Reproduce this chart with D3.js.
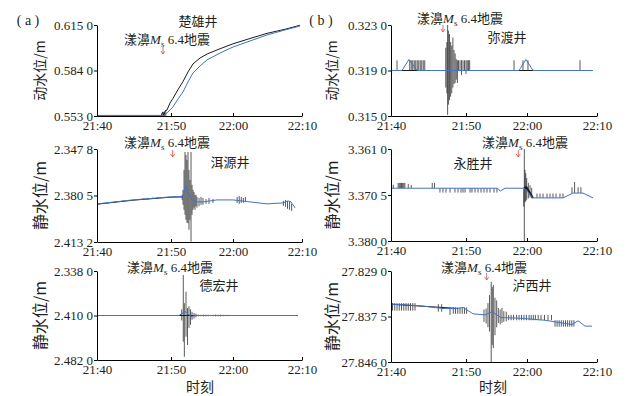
<!DOCTYPE html>
<html>
<head>
<meta charset="utf-8">
<script src="https://cdn.jsdelivr.net/npm/d3@7"></script>
<style>
body { margin: 0; background: #fff; }
text { font-family: "Liberation Serif", "Times New Roman", "Noto Sans CJK SC", serif; fill: #231f20; white-space: pre; }
.cn { font-family: "Noto Sans CJK SC", "Liberation Serif", sans-serif; }
</style>
</head>
<body>
<svg width="634" height="396"></svg>
<script>
const svg = d3.select('svg');

// time axis: minutes after 21:40
const timeTicks = [0, 10, 20, 30];
const timeLabels = ['21:40', '21:50', '22:00', '22:10'];

// (a) 楚雄井, 动水位
const chuxiongTicks = [0.6150, 0.5840, 0.5530];
const chuxiongBlue = [[0, 0.5534], [9.05, 0.5534], [9.46, 0.5551], [10.32, 0.5592], [11.13, 0.5646], [11.94, 0.5694],
  [12.74, 0.5762], [13.55, 0.5823], [14.68, 0.5871], [15.81, 0.5912], [17.9, 0.5959], [20.0, 0.6000],
  [22.46, 0.6041], [24.93, 0.6082], [27.54, 0.6116], [29.71, 0.6143]];
const chuxiongBlack = [[0, 0.5530], [8.65, 0.5530], [8.92, 0.5558], [9.05, 0.5530], [9.19, 0.5564], [9.46, 0.5571],
  [9.86, 0.5618], [10.32, 0.5650], [11.13, 0.5710], [11.94, 0.5765], [12.74, 0.5830], [13.55, 0.5885],
  [14.68, 0.5925], [15.81, 0.5952], [17.9, 0.5988], [20.0, 0.6022], [22.46, 0.6058], [24.93, 0.6093],
  [27.54, 0.6121], [29.71, 0.6148]];
const chuxiongSpikes = [[1.2, 0.5528, 0.5533], [2.6, 0.5529, 0.5533], [4.1, 0.5529, 0.5534], [5.7, 0.5529, 0.5533],
  [7.3, 0.5529, 0.5533], [8.8, 0.5527, 0.5552], [9.3, 0.5528, 0.5570]];
const chuxiongQuake = 8.92;

// (b) 弥渡井, 动水位
const miduTicks = [0.3230, 0.3190, 0.3150];
const miduBlue = [[0, 0.3190], [1.47, 0.3190], [2.4, 0.31997], [3.47, 0.3190], [18.69, 0.3190], [19.84, 0.31997],
  [20.86, 0.3190], [29.43, 0.3190]];
const miduBlack = [[0, 0.3190], [29.43, 0.3190]];
const miduSpikes = [[0.8, 0.3190, 0.3199],
  [2.5, 0.3190, 0.3199], [2.7, 0.3190, 0.3199], [2.9, 0.3190, 0.3199], [3.1, 0.3190, 0.3199], [3.3, 0.3190, 0.3199],
  [3.5, 0.3190, 0.3199], [3.7, 0.3190, 0.3199], [3.9, 0.3190, 0.3199], [4.1, 0.3190, 0.3199], [4.3, 0.3190, 0.3199],
  [4.5, 0.3190, 0.3199],
  [7.3, 0.3175, 0.3210], [7.45, 0.3170, 0.3215], [7.55, 0.3151, 0.3230], [7.65, 0.3160, 0.3225], [7.8, 0.3164, 0.3222],
  [7.95, 0.3167, 0.3215], [8.1, 0.3170, 0.3212], [8.25, 0.3175, 0.3219], [8.4, 0.3178, 0.3208], [8.55, 0.3179, 0.3205],
  [8.7, 0.3182, 0.3200], [8.85, 0.3179, 0.3199],
  [9.0, 0.3190, 0.3199], [9.2, 0.3190, 0.3199], [9.4, 0.3186, 0.3199], [9.6, 0.3190, 0.3199], [9.8, 0.3190, 0.3199],
  [10.0, 0.3187, 0.3199], [10.2, 0.3190, 0.3199], [10.4, 0.3190, 0.3199], [10.6, 0.3190, 0.3199],
  [17.87, 0.3190, 0.3199], [19.34, 0.3190, 0.3199], [20.14, 0.3190, 0.3199], [27.57, 0.3190, 0.3199]];
const miduQuake = 6.93;

// (a) 洱源井, 静水位
const eryuanTicks = [2.3478, 2.3805, 2.4132];
const eryuanBlue = [[0, 2.3864], [4.86, 2.3836], [9.9, 2.3815], [11.9, 2.3812], [12.42, 2.3737], [12.74, 2.3786],
  [13.39, 2.3836], [14.19, 2.3850], [15.16, 2.3850], [17.42, 2.3836], [20, 2.3836], [22.46, 2.3850],
  [24.93, 2.3864], [27.25, 2.3857], [28.0, 2.3843], [28.4, 2.3850], [29.0, 2.3892]];
const eryuanBlack = [[0, 2.3866], [4.86, 2.3838], [9.9, 2.3817], [11.8, 2.3815]];
const eryuanSpikes = [[0.3, 2.3860, 2.3868], [1.5, 2.3853, 2.3861], [2.4, 2.3848, 2.3856], [3.5, 2.3841, 2.3849],
  [4.4, 2.3836, 2.3843], [5.6, 2.3829, 2.3837], [6.2, 2.3826, 2.3834], [6.9, 2.3823, 2.3832], [7.5, 2.3820, 2.3829],
  [8.2, 2.3818, 2.3826], [9.0, 2.3815, 2.3823],
  [11.8, 2.3800, 2.3836], [11.94, 2.3765, 2.3870], [12.1, 2.3625, 2.3906], [12.26, 2.3499, 2.3941],
  [12.42, 2.3520, 2.3976], [12.58, 2.3555, 2.3997], [12.74, 2.3499, 2.4000], [12.9, 2.3625, 2.4046],
  [13.06, 2.3695, 2.3976], [13.23, 2.3499, 2.4130], [13.39, 2.3730, 2.3941], [13.55, 2.3765, 2.3906],
  [13.71, 2.3780, 2.3890], [13.87, 2.3800, 2.3906], [14.03, 2.3800, 2.3880], [14.19, 2.3815, 2.3890],
  [14.52, 2.3822, 2.3880], [14.84, 2.3815, 2.3871], [15.16, 2.3822, 2.3871], [15.65, 2.3830, 2.3864],
  [16.13, 2.3822, 2.3864], [16.77, 2.3829, 2.3857],
  [20.6, 2.3815, 2.3857], [20.9, 2.3808, 2.3864], [21.2, 2.3815, 2.3857], [21.5, 2.3822, 2.3857], [21.8, 2.3815, 2.3850],
  [27.3, 2.3843, 2.3878], [27.6, 2.3836, 2.3885], [27.9, 2.3843, 2.3899], [28.2, 2.3850, 2.3906], [28.5, 2.3864, 2.3913]];
const eryuanQuake = 10.27;

// (b) 永胜井, 静水位
const yongshengTicks = [3.3610, 3.3705, 3.3800];
const yongshengBlue = [[0, 3.3691], [15.2, 3.3691], [15.6, 3.3697], [16.4, 3.3691], [19.5, 3.3691], [20.0, 3.3697],
  [20.86, 3.3711], [25.14, 3.3711], [26.57, 3.3701], [28.0, 3.3701], [29.43, 3.3711]];
const yongshengBlack = [[19.5, 3.3691], [19.9, 3.3689], [20.86, 3.3711]];
const yongshengSpikes = [[0.3, 3.3684, 3.3691],
  [0.95, 3.3680, 3.3691], [1.1, 3.3680, 3.3691], [1.25, 3.3680, 3.3691], [1.4, 3.3680, 3.3691], [1.55, 3.3680, 3.3691],
  [1.7, 3.3680, 3.3691], [1.85, 3.3680, 3.3691], [2.3, 3.3682, 3.3691], [2.7, 3.3684, 3.3691],
  [5.5, 3.3680, 3.3691], [5.8, 3.3680, 3.3691],
  [6.53, 3.3691, 3.3700], [6.93, 3.3691, 3.3700], [7.33, 3.3691, 3.3700], [7.87, 3.3691, 3.3700], [8.53, 3.3691, 3.3700],
  [8.93, 3.3691, 3.3700], [9.33, 3.3691, 3.3700], [9.6, 3.3691, 3.3700], [9.87, 3.3691, 3.3700], [10.66, 3.3691, 3.3700],
  [10.98, 3.3691, 3.3700], [11.48, 3.3691, 3.3700], [11.97, 3.3691, 3.3700], [12.46, 3.3691, 3.3700],
  [12.95, 3.3691, 3.3700], [13.44, 3.3691, 3.3700], [13.93, 3.3691, 3.3700], [14.59, 3.3691, 3.3700],
  [15.08, 3.3691, 3.3700],
  [19.46, 3.3693, 3.3729], [19.56, 3.3610, 3.3800], [19.67, 3.3653, 3.3720], [19.8, 3.3660, 3.3718],
  [19.95, 3.3670, 3.3715], [20.19, 3.3680, 3.3712], [20.43, 3.3685, 3.3710], [20.67, 3.3690, 3.3712],
  [21.43, 3.3702, 3.3711], [21.86, 3.3702, 3.3711], [22.29, 3.3702, 3.3711], [22.86, 3.3702, 3.3711],
  [23.29, 3.3702, 3.3711], [23.71, 3.3702, 3.3711], [24.14, 3.3702, 3.3711], [24.71, 3.3702, 3.3711],
  [25.14, 3.3702, 3.3711],
  [26.43, 3.3689, 3.3701], [26.8, 3.3678, 3.3701], [27.3, 3.3689, 3.3701], [27.7, 3.3689, 3.3701]];
const yongshengQuake = 18.57;

// (a) 德宏井, 静水位
const dehongTicks = [2.3380, 2.4100, 2.4820];
const dehongBlue = [[0, 2.4100], [11.3, 2.4100], [12.26, 2.4035], [13.23, 2.4115], [13.9, 2.4100], [29.42, 2.4100]];
const dehongBlack = [[0, 2.4100], [29.42, 2.4100]];
const dehongSpikes = [[8.1, 2.4092, 2.4108], [8.6, 2.4092, 2.4108], [9.1, 2.4092, 2.4108], [9.6, 2.4092, 2.4108],
  [10.1, 2.4092, 2.4108], [10.6, 2.4092, 2.4108],
  [11.73, 2.4000, 2.4180], [11.98, 2.3445, 2.4524], [12.15, 2.3900, 2.4767], [12.42, 2.3715, 2.4443],
  [12.66, 2.3979, 2.4577], [12.9, 2.3950, 2.4300], [13.15, 2.4000, 2.4250], [13.39, 2.4040, 2.4170],
  [13.71, 2.4060, 2.4150], [14.03, 2.4070, 2.4130],
  [14.4, 2.4085, 2.4115], [14.8, 2.4088, 2.4112], [15.2, 2.4085, 2.4115], [15.6, 2.4088, 2.4112], [16.0, 2.4088, 2.4112],
  [16.4, 2.4090, 2.4110], [16.8, 2.4088, 2.4112], [17.2, 2.4085, 2.4115], [17.6, 2.4088, 2.4112], [18.0, 2.4085, 2.4115],
  [18.4, 2.4088, 2.4112], [18.8, 2.4090, 2.4110], [19.2, 2.4090, 2.4110],
  [20.4, 2.4096, 2.4106], [21.2, 2.4096, 2.4106], [22.0, 2.4096, 2.4106], [22.8, 2.4096, 2.4106],
  [23.6, 2.4096, 2.4106], [24.4, 2.4096, 2.4106], [25.2, 2.4096, 2.4106]];
const dehongQuake = null;

// (b) 泸西井, 静水位
const luxiTicks = [27.8290, 27.8375, 27.8460];
const luxiBlue = [[0, 27.8352], [3.87, 27.8355], [6.93, 27.8360], [8.93, 27.8360], [9.6, 27.8358], [11.15, 27.8370],
  [13.11, 27.8372], [14.26, 27.8366], [15.74, 27.8377], [18.52, 27.8378], [22.57, 27.8382], [26.43, 27.8390],
  [27.29, 27.8383], [28.29, 27.8393], [29.29, 27.8393]];
const luxiBlack = [[0, 27.8352], [8.93, 27.8360]];
const luxiSpikes = [[0.2, 27.8350, 27.8364], [0.5, 27.8350, 27.8364], [0.8, 27.8350, 27.8364], [1.1, 27.8350, 27.8364],
  [1.4, 27.8350, 27.8364], [1.7, 27.8350, 27.8364], [2.0, 27.8350, 27.8364], [2.3, 27.8350, 27.8364],
  [2.6, 27.8350, 27.8364], [2.9, 27.8350, 27.8364], [3.2, 27.8350, 27.8364],
  [6.31, 27.8352, 27.8366], [6.76, 27.8352, 27.8366], [7.87, 27.8358, 27.8372],
  [8.3, 27.8358, 27.8370], [8.6, 27.8358, 27.8370], [8.9, 27.8358, 27.8370], [9.2, 27.8358, 27.8370],
  [9.5, 27.8358, 27.8370], [9.8, 27.8358, 27.8370], [10.1, 27.8358, 27.8370],
  [12.95, 27.8362, 27.8385], [13.3, 27.8360, 27.8388], [13.6, 27.8350, 27.8395], [13.85, 27.8335, 27.8403],
  [14.13, 27.8310, 27.8460], [14.3, 27.8320, 27.8428], [14.48, 27.8316, 27.8434], [14.75, 27.8340, 27.8410],
  [15.03, 27.8345, 27.8395], [15.3, 27.8359, 27.8387], [15.6, 27.8362, 27.8390], [15.9, 27.8359, 27.8387],
  [16.2, 27.8365, 27.8385], [16.6, 27.8366, 27.8384],
  [17.0, 27.8372, 27.8382], [17.4, 27.8372, 27.8382], [17.8, 27.8372, 27.8382], [18.3, 27.8372, 27.8382],
  [18.7, 27.8372, 27.8382], [19.1, 27.8372, 27.8382], [19.5, 27.8372, 27.8382], [19.9, 27.8372, 27.8382],
  [20.3, 27.8372, 27.8382], [20.6, 27.8372, 27.8382], [20.9, 27.8372, 27.8382], [21.2, 27.8372, 27.8382],
  [21.6, 27.8372, 27.8382], [22.0, 27.8372, 27.8382], [22.5, 27.8372, 27.8382], [23.0, 27.8372, 27.8382],
  [23.5, 27.8372, 27.8382],
  [24.0, 27.8382, 27.8394], [24.3, 27.8382, 27.8394], [24.6, 27.8382, 27.8394], [24.9, 27.8382, 27.8394],
  [25.2, 27.8382, 27.8394], [25.5, 27.8382, 27.8394], [25.8, 27.8382, 27.8394], [26.1, 27.8382, 27.8394],
  [26.4, 27.8382, 27.8394], [26.7, 27.8382, 27.8394]];
const luxiQuake = 13.39;

// layout
const columns = [
  { tickX: [97, 171, 233, 302], ylabX: 39, tag: '( a )', tagX: 28, titleX: 200 },
  { tickX: [391, 466, 527, 597], ylabX: 331, tag: '( b )', tagX: 321, titleX: 493 }
];

const panels = [
  { col: 0, top: 25, bottom: 116, ticks: chuxiongTicks, blue: chuxiongBlue, black: chuxiongBlack, spikes: chuxiongSpikes,
    quake: chuxiongQuake, well: '楚雄井', ylab: '动水位/m', ylabSize: 14, wellPos: [198, 26], quakePos: [167, 44], markY: 51 },
  { col: 1, top: 25, bottom: 116, ticks: miduTicks, blue: miduBlue, black: miduBlack, spikes: miduSpikes,
    quake: miduQuake, well: '弥渡井', ylab: '动水位/m', ylabSize: 14, wellPos: [507, 42], quakePos: [460, 23], markY: 29 },
  { col: 0, top: 149, bottom: 242, ticks: eryuanTicks, blue: eryuanBlue, black: eryuanBlack, spikes: eryuanSpikes,
    quake: eryuanQuake, well: '洱源井', ylab: '静水位/m', ylabSize: 16, wellPos: [230, 167], quakePos: [167, 147], markY: 154 },
  { col: 1, top: 149, bottom: 241, ticks: yongshengTicks, blue: yongshengBlue, black: yongshengBlack, spikes: yongshengSpikes,
    quake: yongshengQuake, well: '永胜井', ylab: '静水位/m', ylabSize: 16, wellPos: [473, 168], quakePos: [525, 147], markY: 154 },
  { col: 0, top: 271, bottom: 360, ticks: dehongTicks, blue: dehongBlue, black: dehongBlack, spikes: dehongSpikes,
    quake: dehongQuake, well: '德宏井', ylab: '静水位/m', ylabSize: 16, wellPos: [219, 290], quakePos: [170, 272], markY: 278 },
  { col: 1, top: 271, bottom: 362, ticks: luxiTicks, blue: luxiBlue, black: luxiBlack, spikes: luxiSpikes,
    quake: luxiQuake, well: '泸西井', ylab: '静水位/m', ylabSize: 16, wellPos: [532, 290], quakePos: [484, 272], markY: 277 }
];

const fmt = v => { const s = v.toFixed(4); return s.slice(0, -1) + ' ' + s.slice(-1); };
const serif = '"Liberation Serif", "Times New Roman", serif';

panels.forEach(p => {
  const col = columns[p.col];
  const x = d3.scaleLinear().domain(timeTicks).range(col.tickX);
  const y = d3.scaleLinear().domain([p.ticks[0], p.ticks[p.ticks.length - 1]]).range([p.top, p.bottom]);
  const line = d3.line().x(d => x(d[0])).y(d => y(d[1]));
  const g = svg.append('g');

  // raw record (black)
  g.append('g')
    .selectAll('line')
    .data(p.spikes)
    .join('line')
    .attr('x1', d => x(d[0])).attr('x2', d => x(d[0]))
    .attr('y1', d => y(d[1])).attr('y2', d => y(d[2]))
    .attr('stroke', '#222').attr('stroke-width', 0.75);

  g.append('path')
    .attr('d', line(p.black))
    .attr('fill', 'none').attr('stroke', '#1a1a1a').attr('stroke-width', p.black === yongshengBlack ? 2 : 1);

  // smoothed record (blue)
  g.append('path')
    .attr('d', line(p.blue))
    .attr('fill', 'none').attr('stroke', '#4472c4').attr('stroke-width', 1);

  // axes
  g.append('g')
    .attr('transform', `translate(${col.tickX[0]},0)`)
    .call(d3.axisLeft(y).tickValues(p.ticks).tickFormat(fmt).tickSize(3).tickSizeOuter(0).tickPadding(1))
    .attr('font-family', serif).attr('font-size', 13);

  g.append('g')
    .attr('transform', `translate(0,${p.bottom})`)
    .call(d3.axisBottom(x).tickValues(timeTicks).tickFormat((d, i) => timeLabels[i]).tickSize(-3).tickSizeOuter(0).tickPadding(5))
    .attr('font-family', serif).attr('font-size', 13);

  // y label
  g.append('text')
    .attr('class', 'cn')
    .attr('transform', `translate(${col.ylabX},${(p.top + p.bottom) / 2}) rotate(-90)`)
    .attr('text-anchor', 'middle')
    .attr('dominant-baseline', 'central')
    .attr('font-size', p.ylabSize)
    .text(p.ylab);

  // well name
  g.append('text')
    .attr('class', 'cn')
    .attr('x', p.wellPos[0]).attr('y', p.wellPos[1])
    .attr('text-anchor', 'middle')
    .attr('font-size', 13)
    .text(p.well);

  // earthquake label
  const q = g.append('text')
    .attr('x', p.quakePos[0]).attr('y', p.quakePos[1])
    .attr('text-anchor', 'middle')
    .attr('font-size', 13);
  q.append('tspan').attr('class', 'cn').text('漾濞');
  q.append('tspan').attr('font-style', 'italic').text('M');
  q.append('tspan').attr('font-size', 9).attr('dy', 3).text('s');
  q.append('tspan').attr('dy', -3).text(' 6.4');
  q.append('tspan').attr('class', 'cn').text('地震');

  if (p.quake !== null) {
    g.append('path')
      .attr('transform', `translate(${x(p.quake)},${p.markY})`)
      .attr('d', 'M0,-4L0,3M-2,0L0,3L2,0')
      .attr('fill', 'none').attr('stroke', '#e5484d').attr('stroke-width', 0.8);
  }
});

// panel tags and x titles
columns.forEach(c => {
  svg.append('text').attr('x', c.tagX).attr('y', 25).attr('text-anchor', 'middle').attr('font-size', 14).text(c.tag);
  svg.append('text').attr('class', 'cn').attr('x', c.titleX).attr('y', 392).attr('text-anchor', 'middle').attr('font-size', 14).text('时刻');
});
</script>
</body>
</html>
